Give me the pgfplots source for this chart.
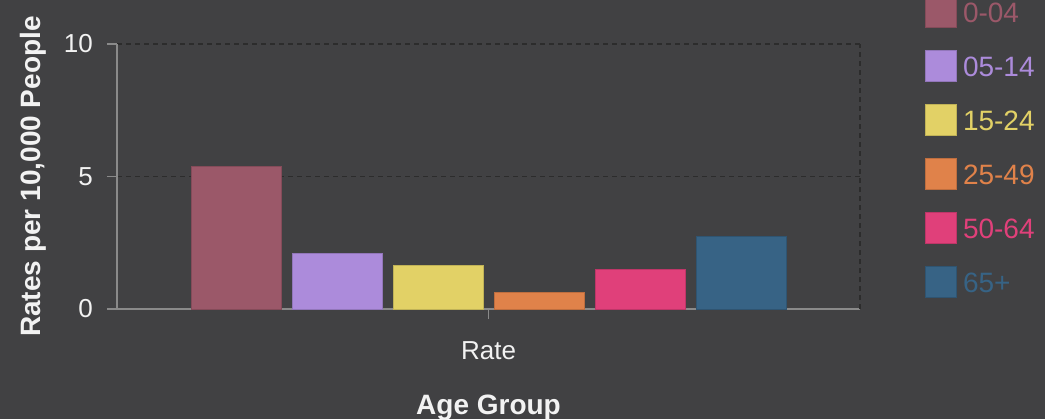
\documentclass[border=0pt]{standalone}
\usepackage{pgfplots}
\pgfplotsset{compat=1.18}
\usepackage{fontspec}
\setmainfont{Liberation Sans}
\definecolor{bg}{HTML}{414143}
\definecolor{c1}{HTML}{9B5869}
\definecolor{c2}{HTML}{AC8BDB}
\definecolor{c3}{HTML}{E2D166}
\definecolor{c4}{HTML}{E0824A}
\definecolor{c5}{HTML}{E0407A}
\definecolor{c6}{HTML}{376385}
\definecolor{axgray}{HTML}{8A8A8A}
\definecolor{gridc}{HTML}{2C2C2C}
\definecolor{txt}{HTML}{F2F2F2}
\pgfplotsset{sq/.style={legend image code/.code={\draw[##1, line width=1bp] (0bp,-14bp) rectangle (31bp,17bp);}}}
\begin{document}
\begin{tikzpicture}[x=1bp,y=1bp]
\useasboundingbox (0,0) rectangle (1045,419);
\fill[bg] (0,0) rectangle (1045,419);
\begin{axis}[
  at={(117bp,110bp)}, anchor=south west,
  width=743bp, height=265bp, scale only axis,
  xmin=-1, xmax=1, ymin=0, ymax=10,
  xtick={0}, xticklabels={Rate},
  ytick={0,5,10},
  ybar=11bp, bar width=90bp,
  axis x line*=bottom, axis y line*=left,
  axis line style={-, draw=axgray, line width=1.5bp},
  tick align=outside,
  major tick length=10bp,
  tick style={draw=axgray, line width=1.5bp},
  ymajorgrids,
  major grid style={draw=gridc, line width=1.5bp, dash pattern=on 5bp off 4bp},
  extra x ticks={1}, extra x tick labels={},
  extra x tick style={xmajorgrids, major tick length=0pt},
  /pgf/number format/assume math mode=true,
  yticklabel style={font=\fontsize{26bp}{30bp}\selectfont, text=txt, anchor=east, inner sep=0pt, xshift=-14bp},
  xticklabel style={font=\fontsize{26bp}{30bp}\selectfont, text=txt, anchor=base, inner sep=0pt, yshift=-40bp},
  xlabel={Age Group}, ylabel={Rates per 10,000 People},
  every axis x label/.style={at={(axis description cs:0.5,0)}, yshift=-99bp, anchor=center, font=\bfseries\fontsize{28bp}{32bp}\selectfont, text=txt},
  every axis y label/.style={at={(axis description cs:0,0.5)}, xshift=-84bp, rotate=90, anchor=center, font=\bfseries\fontsize{28bp}{32bp}\selectfont, text=txt},
  legend style={at={(axis description cs:1.0875,1.181)}, anchor=north west, draw=none, fill=none, inner sep=0pt, outer sep=0pt,
    font=\fontsize{28bp}{32bp}\selectfont, row sep=22bp, column sep=6bp, nodes={inner sep=0pt}},
  legend cell align=left,
]
\addplot[sq, fill=c1, draw=c1!85!black] coordinates {(0,5.37)};
\addlegendentry{\textcolor{c1}{0-04}}
\addplot[sq, fill=c2, draw=c2!85!black] coordinates {(0,2.12)};
\addlegendentry{\textcolor{c2}{05-14}}
\addplot[sq, fill=c3, draw=c3!85!black] coordinates {(0,1.67)};
\addlegendentry{\textcolor{c3}{15-24}}
\addplot[sq, fill=c4, draw=c4!85!black] coordinates {(0,0.62)};
\addlegendentry{\textcolor{c4}{25-49}}
\addplot[sq, fill=c5, draw=c5!85!black] coordinates {(0,1.52)};
\addlegendentry{\textcolor{c5}{50-64}}
\addplot[sq, fill=c6, draw=c6!85!black] coordinates {(0,2.73)};
\addlegendentry{\textcolor{c6}{65+}}
\end{axis}
\end{tikzpicture}
\end{document}
